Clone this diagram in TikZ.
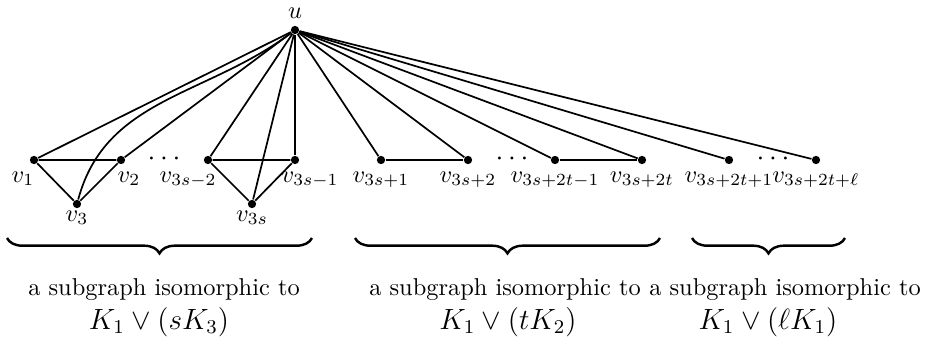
\documentclass[tikz,border=0pt]{standalone}
\usetikzlibrary{decorations.pathreplacing}
\begin{document}
\begin{tikzpicture}[x=0.41pt,y=-0.41pt,
  vtx/.style={circle,fill=black,inner sep=0pt,minimum size=3.4pt},
  edge/.style={line width=0.7pt},
  lbl/.style={inner sep=0pt,anchor=base},
  dotsnode/.style={inner sep=0pt,scale=1.15},
  bracestyle/.style={line width=1pt,decorate,decoration={brace,amplitude=6.3pt,mirror}},
  caption/.style={inner sep=0pt,anchor=base},
  captionbig/.style={inner sep=0pt,anchor=base,font=\large}]
\useasboundingbox (0,0) rectangle (932,341);
% vertices
\node[vtx] (u) at (295,30) {};
\node[vtx] (v1) at (34,160) {};
\node[vtx] (v2) at (121,160) {};
\node[vtx] (v3) at (77,204) {};
\node[vtx] (w1) at (208,160) {};
\node[vtx] (w2) at (295,160) {};
\node[vtx] (w3) at (252,204) {};
\node[vtx] (a1) at (381,160) {};
\node[vtx] (a2) at (468,160) {};
\node[vtx] (b1) at (555,160) {};
\node[vtx] (b2) at (642,160) {};
\node[vtx] (c1) at (729,160) {};
\node[vtx] (c2) at (816,160) {};
% labels
\node[lbl] (lu) at (295,18) {$u$};
\node[lbl] (lv1) at (23,182) {$v_1$};
\node[lbl] (lv2) at (129,182) {$v_2$};
\node[lbl] (lv3) at (77,221) {$v_3$};
\node[lbl] (lw1) at (188,182) {$v_{3s-2}$};
\node[lbl] (lw2) at (310,182) {$v_{3s-1}$};
\node[lbl] (lw3) at (252,221) {$v_{3s}$};
\node[lbl] (la1) at (381,182) {$v_{3s+1}$};
\node[lbl] (la2) at (468,182) {$v_{3s+2}$};
\node[lbl] (lb1) at (555,182) {$v_{3s+2t-1}$};
\node[lbl] (lb2) at (642,182) {$v_{3s+2t}$};
\node[lbl] (lc1) at (729,182) {$v_{3s+2t+1}$};
\node[lbl] (lc2) at (816,182) {$v_{3s+2t+\ell}$};
% dots
\node[dotsnode] (d1) at (164,159) {$\cdots$};
\node[dotsnode] (d2) at (512,159) {$\cdots$};
\node[dotsnode] (d3) at (773,159) {$\cdots$};
% edges from u
\draw[edge] (u) -- (v1);
\draw[edge] (u) -- (v2);
\draw[edge] (u) to[out=-143,in=75] (v3);
\draw[edge] (u) -- (w1);
\draw[edge] (u) -- (w2);
\draw[edge] (u) -- (w3);
\draw[edge] (u) -- (a1);
\draw[edge] (u) -- (a2);
\draw[edge] (u) -- (b1);
\draw[edge] (u) -- (b2);
\draw[edge] (u) -- (c1);
\draw[edge] (u) -- (c2);
% triangles and matchings
\draw[edge] (v1) -- (v2) -- (v3) -- (v1);
\draw[edge] (w1) -- (w2) -- (w3) -- (w1);
\draw[edge] (a1) -- (a2);
\draw[edge] (b1) -- (b2);
% braces
\coordinate (br1l) at (7,238);
\coordinate (br1r) at (312,238);
\coordinate (br2l) at (355,238);
\coordinate (br2r) at (660,238);
\coordinate (br3l) at (692,238);
\coordinate (br3r) at (845,238);
\draw[bracestyle] (br1l) -- (br1r);
\draw[bracestyle] (br2l) -- (br2r);
\draw[bracestyle] (br3l) -- (br3r);
% captions
\node[caption] (t1a) at (164,295) {a subgraph isomorphic to};
\node[captionbig] (t1b) at (159,329) {$K_1\vee(sK_3)$};
\node[caption] (t2a) at (505,295) {a subgraph isomorphic to};
\node[captionbig] (t2b) at (508,329) {$K_1\vee(tK_2)$};
\node[caption] (t3a) at (785,295) {a subgraph isomorphic to};
\node[captionbig] (t3b) at (768,329) {$K_1\vee(\ell K_1)$};
\end{tikzpicture}
\end{document}
